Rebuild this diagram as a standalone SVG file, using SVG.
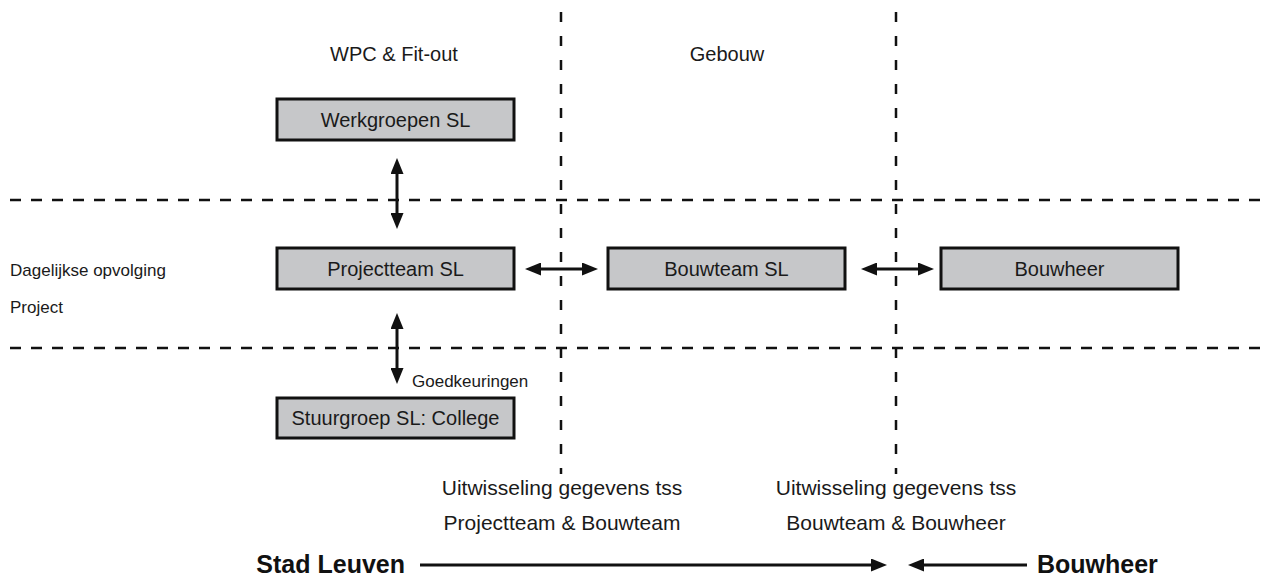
<svg xmlns="http://www.w3.org/2000/svg" width="1273" height="576" viewBox="0 0 1273 576">
<style>
.box{fill:#c6c7c9;stroke:#111;stroke-width:3}
.lbl{font-family:"Liberation Sans",Arial,sans-serif;font-size:20px;fill:#1a1a1a;text-anchor:middle}
.sm{font-family:"Liberation Sans",Arial,sans-serif;font-size:17px;fill:#1a1a1a}
.big{font-family:"Liberation Sans",Arial,sans-serif;font-size:25px;font-weight:bold;fill:#111}
.dash{stroke:#111;stroke-width:2.5;stroke-dasharray:11 10;fill:none}
.vdash{stroke:#111;stroke-width:2.5;stroke-dasharray:10 14;fill:none}
.arr{stroke:#111;stroke-width:3;fill:none}
</style>
<defs>
<marker id="ah" viewBox="0 0 16 13" refX="3" refY="6.5" markerWidth="16" markerHeight="13" markerUnits="userSpaceOnUse" orient="auto-start-reverse"><path d="M0,0 L16,6.5 L0,13 z" fill="#111"/></marker>
</defs>
<rect width="1273" height="576" fill="#fff"/>
<g id="gridlines">
<line class="vdash" x1="561" y1="12" x2="561" y2="474"/>
<line class="vdash" x1="896" y1="12" x2="896" y2="474"/>
<line class="dash" x1="10" y1="200" x2="1265" y2="200"/>
<line class="dash" x1="10" y1="348" x2="1265" y2="348"/>
</g>
<g id="headers">
<text class="lbl" x="394" y="61">WPC &amp; Fit-out</text>
<text class="lbl" x="727" y="61">Gebouw</text>
<text class="sm" x="10" y="276">Dagelijkse opvolging</text>
<text class="sm" x="10" y="313">Project</text>
</g>
<g id="werkgroepen"><rect class="box" x="277" y="99" width="237" height="41"/><text class="lbl" x="395.5" y="127">Werkgroepen SL</text></g>
<g id="projectteam"><rect class="box" x="277" y="248" width="237" height="41"/><text class="lbl" x="395.5" y="276">Projectteam SL</text></g>
<g id="bouwteam"><rect class="box" x="608" y="248" width="237" height="41"/><text class="lbl" x="726.5" y="276">Bouwteam SL</text></g>
<g id="bouwheer"><rect class="box" x="941" y="248" width="237" height="41"/><text class="lbl" x="1059.5" y="276">Bouwheer</text></g>
<g id="stuurgroep"><rect class="box" x="277" y="398" width="237" height="40"/><text class="lbl" x="395.5" y="425">Stuurgroep SL: College</text></g>
<g id="connectors">
<line class="arr" x1="397" y1="171" x2="397" y2="216" marker-start="url(#ah)" marker-end="url(#ah)"/>
<line class="arr" x1="397" y1="326" x2="397" y2="371" marker-start="url(#ah)" marker-end="url(#ah)"/>
<line class="arr" x1="538" y1="269" x2="585" y2="269" marker-start="url(#ah)" marker-end="url(#ah)"/>
<line class="arr" x1="874" y1="269" x2="921" y2="269" marker-start="url(#ah)" marker-end="url(#ah)"/>
<text class="sm" x="412" y="387">Goedkeuringen</text>
</g>
<g id="exchange">
<text class="lbl" x="562" y="495" style="font-size:21px">Uitwisseling gegevens tss</text>
<text class="lbl" x="562" y="530" style="font-size:21px">Projectteam &amp; Bouwteam</text>
<text class="lbl" x="896" y="495" style="font-size:21px">Uitwisseling gegevens tss</text>
<text class="lbl" x="896" y="530" style="font-size:21px">Bouwteam &amp; Bouwheer</text>
</g>
<g id="parties">
<text class="big" x="405" y="573" text-anchor="end">Stad Leuven</text>
<line class="arr" x1="420" y1="565" x2="874" y2="565" marker-end="url(#ah)"/>
<line class="arr" x1="921" y1="565" x2="1027" y2="565" marker-start="url(#ah)"/>
<text class="big" x="1037" y="573">Bouwheer</text>
</g>
</svg>
